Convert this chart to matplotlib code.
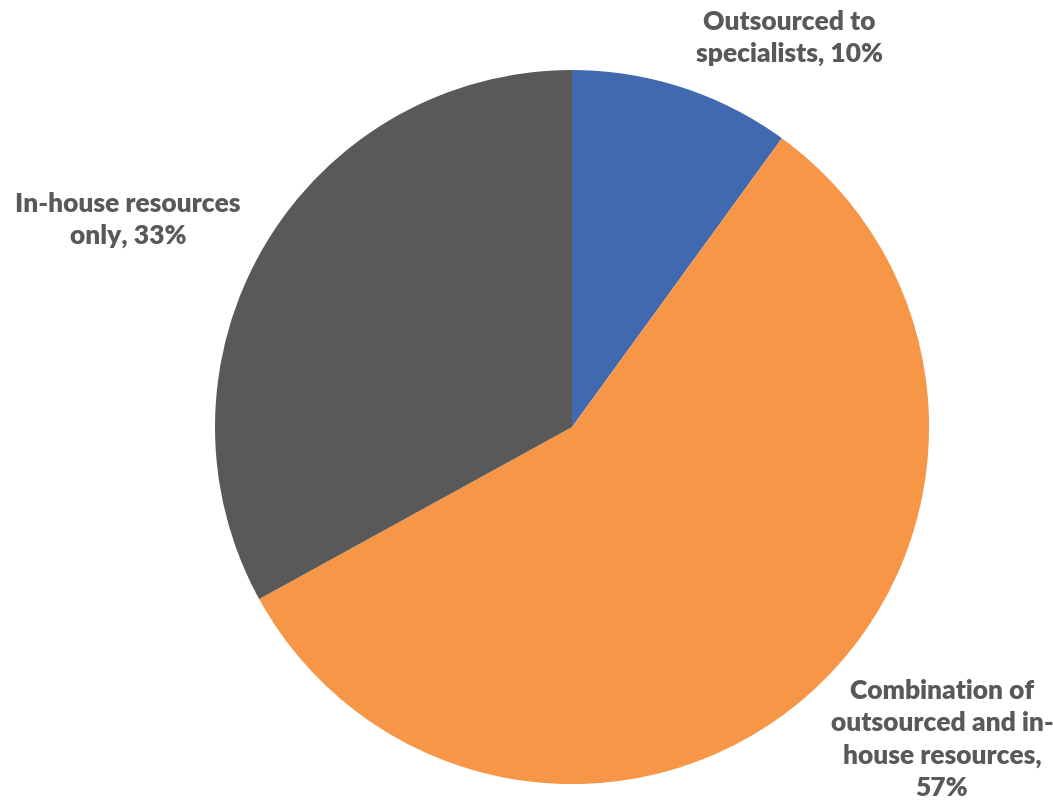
import matplotlib.pyplot as plt

labels = ["Outsourced to\nspecialists, 10%",
          "Combination of\noutsourced and in-\nhouse resources,\n57%",
          "In-house resources\nonly, 33%"]
shares = [10, 57, 33]
colors = ["#4169B0", "#F79646", "#595959"]

# label centres in pie units (radius = 1)
label_pos = [(0.608, 1.092), (1.036, -0.872), (-1.244, 0.582)]

fig = plt.figure(figsize=(10.53, 8.04), dpi=100)
ax = fig.add_axes([0, 0, 1, 1])
ax.pie(shares, colors=colors, startangle=90, counterclock=False,
       radius=1.0, wedgeprops=dict(linewidth=0))

for (x, y), txt in zip(label_pos, labels):
    ax.text(x, y, txt, ha="center", va="center", fontsize=19,
            fontweight="heavy", family="Lato", color="#595959",
            linespacing=1.4)

ax.set_xlim(-1.602, 1.347)
ax.set_ylim(-1.053, 1.199)
ax.set_aspect("equal")
ax.axis("off")

fig.savefig("out.png", dpi=100)
